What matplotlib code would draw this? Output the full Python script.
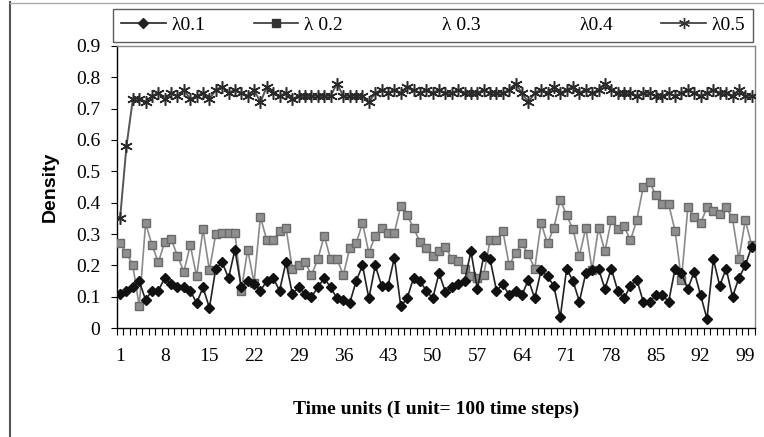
import matplotlib
matplotlib.use('Agg')
import matplotlib.pyplot as plt
from matplotlib.lines import Line2D
from matplotlib.ticker import FixedLocator, FuncFormatter

# time units 1..100
time_units = list(range(1, 101))

lambda_01 = [0.11, 0.12, 0.13, 0.15, 0.09, 0.12, 0.12, 0.16, 0.14, 0.13,
             0.13, 0.12, 0.08, 0.13, 0.065, 0.19, 0.21, 0.16, 0.25, 0.13,
             0.15, 0.14, 0.12, 0.15, 0.16, 0.12, 0.21, 0.11, 0.13, 0.11,
             0.10, 0.13, 0.16, 0.13, 0.095, 0.09, 0.08, 0.15, 0.20, 0.095,
             0.20, 0.135, 0.135, 0.225, 0.07, 0.095, 0.16, 0.15, 0.12, 0.095,
             0.175, 0.115, 0.13, 0.14, 0.15, 0.245, 0.125, 0.23, 0.22, 0.12,
             0.14, 0.105, 0.12, 0.105, 0.155, 0.095, 0.185, 0.165, 0.135, 0.035,
             0.19, 0.15, 0.085, 0.175, 0.185, 0.19, 0.125, 0.19, 0.12, 0.095,
             0.135, 0.155, 0.085, 0.085, 0.105, 0.105, 0.085, 0.19, 0.175, 0.125,
             0.18, 0.105, 0.03, 0.22, 0.135, 0.19, 0.10, 0.16, 0.20, 0.26]

lambda_02 = [0.27, 0.24, 0.20, 0.07, 0.335, 0.265, 0.21, 0.275, 0.285, 0.23,
             0.18, 0.265, 0.165, 0.315, 0.185, 0.30, 0.305, 0.305, 0.305, 0.12,
             0.25, 0.145, 0.355, 0.28, 0.28, 0.31, 0.32, 0.19, 0.20, 0.21,
             0.17, 0.22, 0.295, 0.22, 0.22, 0.17, 0.255, 0.27, 0.335, 0.24,
             0.295, 0.32, 0.305, 0.305, 0.39, 0.36, 0.32, 0.275, 0.255, 0.23,
             0.245, 0.26, 0.22, 0.215, 0.19, 0.165, 0.16, 0.17, 0.28, 0.28,
             0.31, 0.20, 0.24, 0.27, 0.235, 0.19, 0.335, 0.27, 0.32, 0.41,
             0.36, 0.315, 0.23, 0.32, 0.185, 0.32, 0.245, 0.345, 0.315, 0.325,
             0.28, 0.345, 0.45, 0.465, 0.425, 0.395, 0.395, 0.31, 0.155, 0.385,
             0.355, 0.335, 0.385, 0.375, 0.365, 0.385, 0.35, 0.22, 0.345, 0.265]

lambda_05 = [0.35, 0.58, 0.73, 0.73, 0.72, 0.74, 0.75, 0.73, 0.75, 0.74,
             0.76, 0.73, 0.74, 0.75, 0.73, 0.76, 0.77, 0.75, 0.76, 0.75,
             0.74, 0.76, 0.72, 0.77, 0.75, 0.74, 0.75, 0.73, 0.74, 0.74,
             0.74, 0.74, 0.74, 0.74, 0.78, 0.74, 0.74, 0.74, 0.74, 0.72,
             0.75, 0.76, 0.75, 0.76, 0.75, 0.77, 0.76, 0.75, 0.76, 0.75,
             0.76, 0.75, 0.75, 0.76, 0.75, 0.75, 0.75, 0.76, 0.75, 0.75,
             0.75, 0.76, 0.78, 0.75, 0.72, 0.75, 0.76, 0.75, 0.77, 0.75,
             0.76, 0.77, 0.75, 0.76, 0.75, 0.76, 0.78, 0.76, 0.75, 0.75,
             0.75, 0.74, 0.75, 0.75, 0.74, 0.74, 0.75, 0.74, 0.75, 0.76,
             0.75, 0.74, 0.75, 0.76, 0.75, 0.75, 0.74, 0.76, 0.74, 0.74]

legend_labels = ['λ0.1', 'λ 0.2', 'λ 0.3', 'λ0.4', 'λ0.5']
x_tick_labels = list(range(1, 101, 7))
y_ticks = [0, 0.1, 0.2, 0.3, 0.4, 0.5, 0.6, 0.7, 0.8, 0.9]

serif = 'Liberation Serif'

fig = plt.figure(figsize=(7.64, 4.37), dpi=100)
ax = fig.add_axes([0.153, 0.249, 0.835, 0.646])

# lambda 0.3 / 0.4 are not visible in the chart, only in the legend
ax.plot(time_units, lambda_05, color='#555555', linewidth=1.4,
        marker=(6, 2, 0), markersize=9, markeredgecolor='#2a2a2a',
        markeredgewidth=1.1, zorder=3)
ax.plot(time_units, lambda_02, color='#8a8a8a', linewidth=1.2,
        marker='s', markersize=6, markerfacecolor='#8f8f8f',
        markeredgecolor='#6a6a6a', zorder=4)
ax.plot(time_units, lambda_01, color='#222222', linewidth=1.2,
        marker='D', markersize=5.5, markerfacecolor='#111111',
        markeredgecolor='#111111', zorder=5)

ax.set_xlim(0.5, 100.5)
ax.set_ylim(0, 0.9)

ax.xaxis.set_major_locator(FixedLocator(x_tick_labels))
ax.xaxis.set_minor_locator(FixedLocator([i + 0.5 for i in range(0, 101)]))
ax.tick_params(axis='x', which='major', length=0, pad=14)
ax.tick_params(axis='x', which='minor', length=5, width=0.8, direction='out')
ax.set_yticks(y_ticks)
ax.yaxis.set_major_formatter(FuncFormatter(lambda v, p: '0' if v == 0 else '%.1f' % v))
ax.tick_params(axis='y', length=4, width=0.8, direction='out', pad=8)
for lbl in ax.get_xticklabels() + ax.get_yticklabels():
    lbl.set_fontfamily(serif)
    lbl.set_fontsize(14)

for side in ['left', 'bottom']:
    ax.spines[side].set_color('black')
    ax.spines[side].set_linewidth(1.0)
for side in ['top', 'right']:
    ax.spines[side].set_color('#888888')
    ax.spines[side].set_linewidth(1.0)

ax.set_xlabel('Time units (I unit= 100 time steps)', fontfamily=serif,
              fontweight='bold', fontsize=14, labelpad=26)
ax.set_ylabel('Density', fontfamily='Liberation Sans', fontweight='bold',
              fontsize=14, labelpad=12)

handles = [
    Line2D([], [], color='#222222', marker='D', markersize=5, linewidth=1.2),
    Line2D([], [], color='#333333', marker='s', markersize=5.5, linewidth=1.2),
    Line2D([], [], color='white', linewidth=1.2),
    Line2D([], [], color='white', linewidth=1.2),
    Line2D([], [], color='#333333', marker=(6, 2, 0), markersize=8, linewidth=1.2),
]
leg = fig.legend(handles, legend_labels, loc='center',
                 bbox_to_anchor=(0.148, 0.905, 0.838, 0.074), mode='expand',
                 ncol=5, frameon=True, fancybox=False, handlelength=2.3,
                 handletextpad=0.3, borderaxespad=0,
                 prop={'family': serif, 'size': 14})
leg.get_frame().set_edgecolor('#333333')
leg.get_frame().set_linewidth(1.0)

# outer chart border
fig.add_artist(Line2D([0.013, 0.013], [0.0, 0.995], color='#555555', linewidth=1.5))
fig.add_artist(Line2D([0.013, 1.0], [0.993, 0.993], color='#aaaaaa', linewidth=1.0))

fig.savefig('out.png', dpi=100)
